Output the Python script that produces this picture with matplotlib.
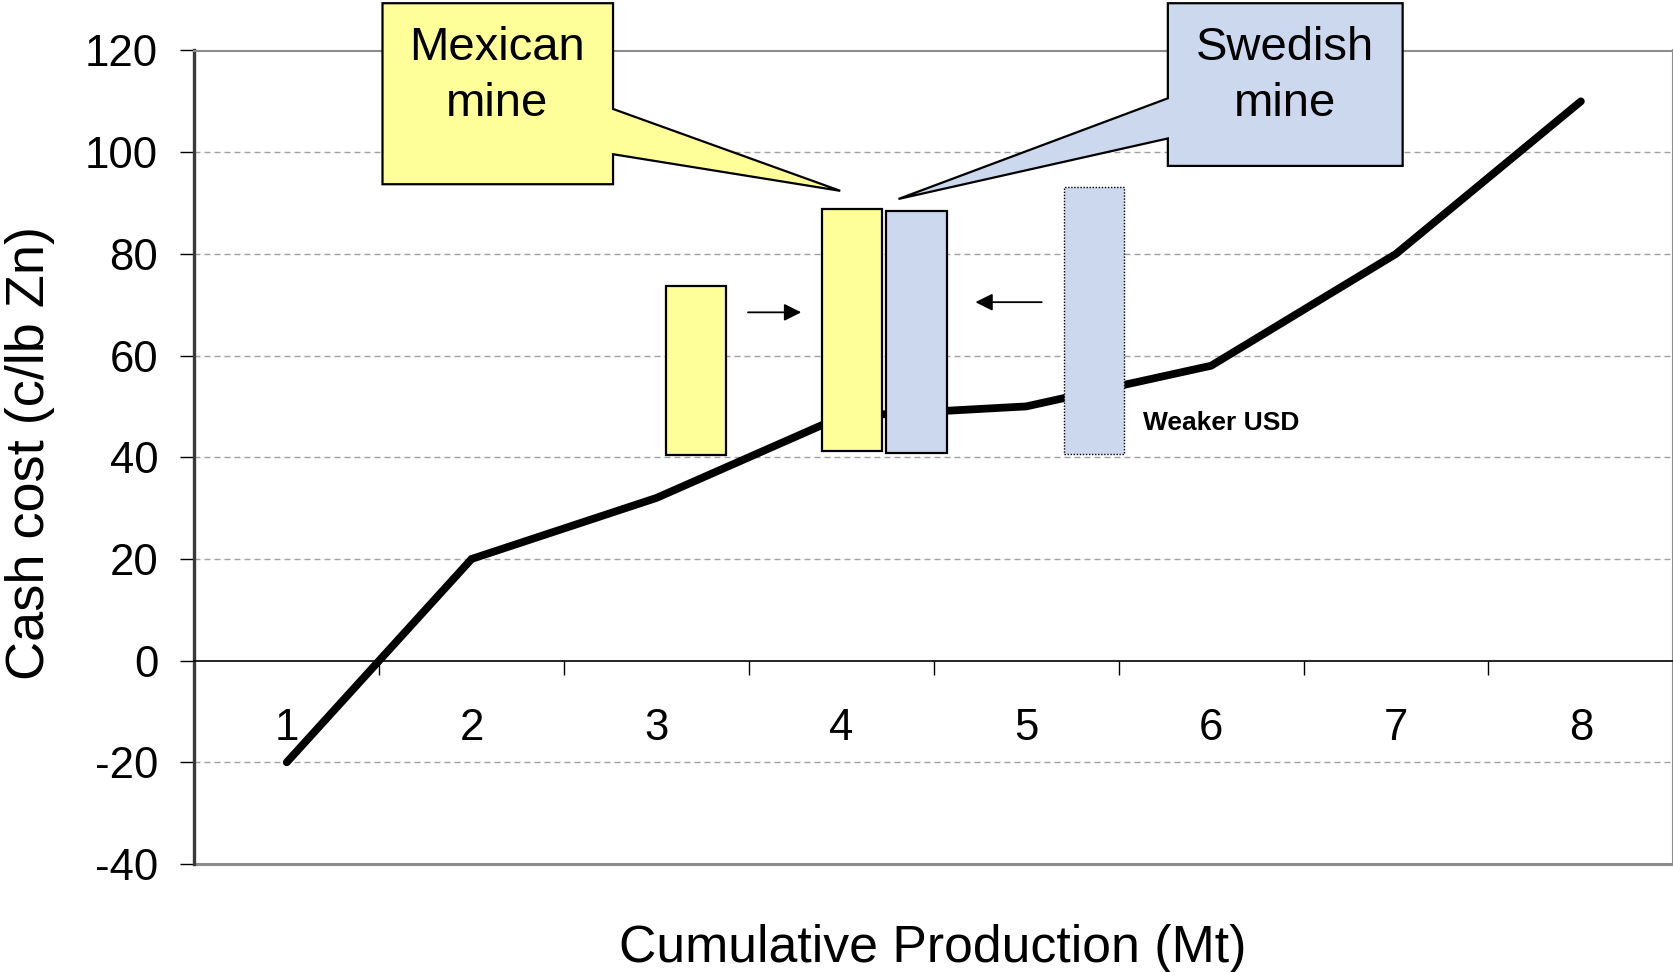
import matplotlib
matplotlib.use("Agg")
import matplotlib.pyplot as plt
from matplotlib.patches import Polygon
import numpy as np

plt.rcParams["font.family"] = ["Liberation Sans", "DejaVu Sans"]

# Industry cash-cost curve
production_mt = [1, 2, 3, 4, 5, 6, 7, 8]
cash_cost = [-20, 20, 32, 48, 50, 58, 80, 110]
x_tick_labels = ["1", "2", "3", "4", "5", "6", "7", "8"]
y_ticks = [-40, -20, 0, 20, 40, 60, 80, 100, 120]

# Mine cost ranges (c/lb Zn): Mexican before/after, Swedish after/before
mine_cost_low = [40.4, 41.2, 40.8, 40.6]
mine_cost_high = [73.7, 88.8, 88.4, 93.1]

YELLOW = "#FFFF99"
BLUE = "#CBD8EE"

fig = plt.figure(figsize=(16.74, 9.72), dpi=100)
ax = fig.add_axes([194.3 / 1674, 1 - 864 / 972, (1673.3 - 194.3) / 1674, (864 - 50.5) / 972])

ax.set_xlim(0.5, 8.5)
ax.set_ylim(-40, 120)

# Spines: y axis on the left, x axis crossing at zero
for side in ("top", "right"):
    ax.spines[side].set_color("#8c8c8c")
    ax.spines[side].set_linewidth(1.5)
ax.spines["left"].set_color("#3a3a3a")
ax.spines["left"].set_linewidth(2.4)
ax.spines["bottom"].set_position(("data", 0))
ax.spines["bottom"].set_color("black")
ax.spines["bottom"].set_linewidth(1.2)
ax.axhline(-40, color="#8c8c8c", lw=2.2, clip_on=False, zorder=2.5)

# Dashed horizontal gridlines
for v in y_ticks:
    if v not in (-40, 0, 120):
        ax.axhline(v, color="#a0a0a0", lw=1.0, ls=(0, (4.3, 2.9)), zorder=1)

ax.set_yticks(y_ticks)
ax.set_yticklabels([str(v) for v in y_ticks])
ax.tick_params(axis="y", direction="out", length=10, width=1, color="black",
               labelsize=31.5, pad=16)

# Category axis: boundary ticks, labels under the category centres
ax.set_xticks(np.arange(1.5, 8.0, 1.0))
ax.set_xticklabels([])
ax.set_xticks(production_mt, minor=True)
ax.set_xticklabels(x_tick_labels, minor=True)
ax.tick_params(axis="x", which="major", direction="out", length=10, width=1, color="black")
ax.tick_params(axis="x", which="minor", length=0, labelsize=31.5, pad=34)

# Cost curve
ax.plot(production_mt, cash_cost, color="black", lw=5.6,
        solid_capstyle="round", solid_joinstyle="miter", zorder=3)

# Mine cost boxes
box_left = [3.053, 3.897, 4.244, 5.202]
box_width = 0.325
box_colors = [YELLOW, YELLOW, BLUE, BLUE]
heights = np.array(mine_cost_high) - np.array(mine_cost_low)
for i in range(4):
    dotted = i == 3
    ax.bar(box_left[i], heights[i], bottom=mine_cost_low[i], width=box_width,
           align="edge", color=box_colors[i], edgecolor="black",
           linewidth=1.0 if dotted else 1.6,
           linestyle=(0, (1, 1.2)) if dotted else "-", zorder=4)

# Shift arrows
arrow_kw = dict(arrowstyle="-|>", color="black", lw=1.3, mutation_scale=26,
                shrinkA=0, shrinkB=0)
ax.annotate("", xy=(3.783, 68.5), xytext=(3.495, 68.5), arrowprops=arrow_kw, zorder=5)
ax.annotate("", xy=(4.725, 70.5), xytext=(5.084, 70.5), arrowprops=arrow_kw, zorder=5)

ax.text(5.63, 46.8, "Weaker USD", fontsize=19, fontweight="bold",
        ha="left", va="center", zorder=5)

# Callouts
mex = [(1.518, 129.3), (2.765, 129.3), (2.765, 108.5), (3.994, 92.4),
       (2.765, 99.6), (2.765, 93.7), (1.518, 93.7)]
swe = [(5.766, 129.3), (7.036, 129.3), (7.036, 97.3), (5.766, 97.3),
       (5.766, 102.7), (4.309, 90.8), (5.766, 110.6)]
for pts, col in ((mex, YELLOW), (swe, BLUE)):
    ax.add_patch(Polygon(pts, closed=True, facecolor=col, edgecolor="black",
                         linewidth=1.6, joinstyle="miter", clip_on=False, zorder=6))
ax.text(2.14, 115.0, "Mexican\nmine", fontsize=34, ha="center", va="center",
        linespacing=1.37, zorder=7)
ax.text(6.40, 115.0, "Swedish\nmine", fontsize=34, ha="center", va="center",
        linespacing=1.37, zorder=7)

fig.text(30 / 1674, 1 - 452.7 / 972, "Cash cost (c/lb Zn)", rotation=90,
         fontsize=39, ha="center", va="center")
fig.text(933 / 1674, 1 - 948 / 972, "Cumulative Production (Mt)",
         fontsize=37.3, ha="center", va="center")

fig.savefig("out.png", dpi=100)
